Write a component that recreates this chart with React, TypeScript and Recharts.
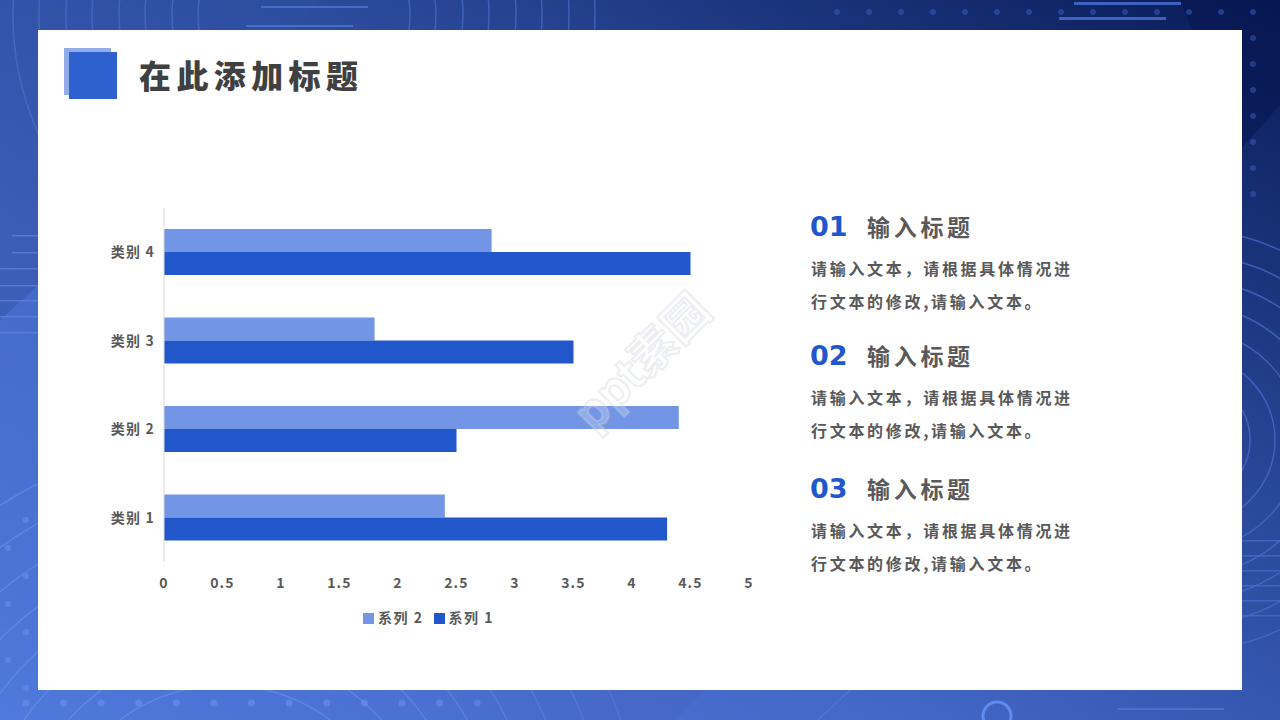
import { BarChart, Bar, XAxis, YAxis, Legend } from "recharts";

const categories = ["类别 1", "类别 2", "类别 3", "类别 4"];
const series1 = [4.3, 2.5, 3.5, 4.5];
const series2 = [2.4, 4.4, 1.8, 2.8];
const xTicks = [0, 0.5, 1, 1.5, 2, 2.5, 3, 3.5, 4, 4.5, 5];

const headings = ["输入标题", "输入标题", "输入标题"];
const numbers = ["01", "02", "03"];
const line1 = "请输入文本，请根据具体情况进";
const line2 = "行文本的修改,请输入文本。";

const chartData = categories.map((name, i) => ({
  name,
  s1: series1[i],
  s2: series2[i],
}));

const FONT = '"Noto Sans CJK SC", "Noto Sans", sans-serif';

// positions of the three text blocks on the right
const blocks = [
  { head: 226, a: 268, b: 301 },
  { head: 355, a: 397, b: 430 },
  { head: 488, a: 530, b: 563 },
];

function Background() {
  const dots: [number, number][] = [];
  for (let r = 0; r < 8; r++) {
    for (let c = 0; c < 18; c++) {
      const x = 837 + c * 32;
      const y = 12 + r * 26;
      if (x > 1242 || y < 30) dots.push([x, y]);
    }
  }
  const lowDots: [number, number][] = [];
  for (let c = 0; c < 13; c++) {
    lowDots.push([26 + c * 37.6, 703]);
  }
  const leftDots: [number, number][] = [
    [26, 520], [8, 548], [26, 576], [8, 604], [26, 632], [8, 660], [26, 688],
  ];
  return (
    <svg width={1280} height={720} style={{ position: "absolute", left: 0, top: 0 }}>
      <defs>
        <linearGradient id="bg" x1="0" y1="1" x2="1" y2="0">
          <stop offset="0" stopColor="#4f79dc" />
          <stop offset="0.35" stopColor="#4468c8" />
          <stop offset="0.7" stopColor="#24428f" />
          <stop offset="1" stopColor="#081a56" />
        </linearGradient>
        <linearGradient id="band" x1="0" y1="0" x2="1" y2="0">
          <stop offset="0.6" stopColor="#4566c4" stopOpacity={0} />
          <stop offset="1" stopColor="#4566c4" stopOpacity={0.8} />
        </linearGradient>
      </defs>
      <rect width={1280} height={720} fill="url(#bg)" />
      <polygon points="0,0 320,0 290,40 38,285 0,320" fill="#2f4f9f" opacity={0.45} />
      <polygon points="1180,0 1280,0 1280,105 1240,150" fill="#071650" opacity={0.6} />

      {/* top rings */}
      {[106, 132, 159, 185, 212, 238, 265, 291].map((r) => (
        <circle key={r} cx={304} cy={15} r={r} fill="none" stroke="#4f74d0" strokeOpacity={0.6} strokeWidth={1.5} />
      ))}
      {/* bottom rings */}
      {[175, 210, 245, 280, 315, 350, 385, 420].map((r) => (
        <circle key={r} cx={225} cy={860} r={r} fill="none" stroke="#7f9fee" strokeOpacity={0.4} strokeWidth={1.5} />
      ))}
      {/* right rings */}
      {[60, 85, 110, 135, 160, 185, 210].map((r) => (
        <circle key={r} cx={1190} cy={440} r={r} fill="none" stroke="#4a6fcf" strokeOpacity={0.7} strokeWidth={1.5} />
      ))}

      {dots.map(([x, y]) => (
        <circle key={`${x}-${y}`} cx={x} cy={y} r={3} fill="#3a5fbe" opacity={0.5} />
      ))}
      {lowDots.map(([x, y]) => (
        <circle key={x} cx={x} cy={y} r={3.5} fill="#6f90ea" opacity={0.6} />
      ))}
      {leftDots.map(([x, y]) => (
        <circle key={y} cx={x} cy={y} r={3} fill="#6f90ea" opacity={0.55} />
      ))}

      {/* short lines */}
      <rect x={1074} y={2} width={107} height={3} fill="#3f62c0" />
      <rect x={1059} y={17} width={107} height={3} fill="#3f62c0" />
      <rect x={261} y={6} width={107} height={2} fill="#4a6cc6" />
      <rect x={246} y={25} width={107} height={2} fill="#4a6cc6" />
      <rect x={1117} y={708} width={107} height={2} fill="#4a6fd0" />
      {[235, 252, 268, 285, 300, 316, 332].map((y, i) => (
        <rect key={y} x={i < 2 ? 12 : 0} y={y} width={38} height={1.5} fill="#5f83dd" opacity={0.75} />
      ))}
      {[540, 555, 570, 585, 600, 615].map((y) => (
        <rect key={y} x={1242} y={y} width={38} height={1.5} fill="#4a6fcf" opacity={0.7} />
      ))}

      <line x1={850} y1={690} x2={818} y2={720} stroke="#5f83dd" strokeOpacity={0.7} />
      <polygon points="0,690 705,690 675,720 0,720" fill="url(#band)" />
      <circle cx={997} cy={716} r={14} fill="none" stroke="#5f8af0" strokeWidth={3} />
    </svg>
  );
}

function Watermark() {
  return (
    <svg width={1280} height={720} style={{ position: "absolute", left: 0, top: 0, pointerEvents: "none" }}>
      <g transform="rotate(-45 642 362)" fontFamily={FONT} fontSize={46} fontWeight={700}>
        <text
          x={642}
          y={378}
          textAnchor="middle"
          fill="rgba(255,255,255,0.22)"
          stroke="rgba(205,210,222,0.4)"
          strokeWidth={2}
        >
          ppt素园
        </text>
      </g>
    </svg>
  );
}

function LegendLabel(value: string) {
  return <span style={{ color: "#595959", fontSize: 14, fontWeight: 700, letterSpacing: 1.5 }}>{value}</span>;
}

export default function App() {
  const tickStyle = { fontSize: 14, fill: "#595959", fontWeight: 700, fontFamily: FONT, letterSpacing: 1.2 };
  return (
    <div style={{ position: "absolute", left: 0, top: 0, width: 1280, height: 720, overflow: "hidden", fontFamily: FONT }}>
      <Background />
      <div style={{ position: "absolute", left: 38, top: 30, width: 1204, height: 660, background: "#fff" }} />

      <div style={{ position: "absolute", left: 64, top: 48, width: 47, height: 47, background: "#92ace9" }} />
      <div style={{ position: "absolute", left: 69, top: 52, width: 48, height: 47, background: "#2f60cf" }} />
      <div
        style={{
          position: "absolute",
          left: 139,
          top: 50,
          fontSize: 32,
          lineHeight: "48px",
          fontWeight: 900,
          letterSpacing: 5.4,
          color: "#404040",
          whiteSpace: "nowrap",
        }}
      >
        在此添加标题
      </div>

      <div style={{ position: "absolute", left: 64, top: 190 }}>
        <BarChart
          width={720}
          height={450}
          data={chartData}
          layout="vertical"
          barSize={23}
          barGap={0}
          margin={{ top: 18, right: 35, bottom: 10, left: 0 }}
        >
          <XAxis
            type="number"
            domain={[0, 5]}
            ticks={xTicks}
            interval={0}
            axisLine={false}
            tickLine={false}
            height={28}
            tickMargin={10}
            tick={tickStyle}
          />
          <YAxis
            type="category"
            dataKey="name"
            reversed
            width={100}
            tickLine={false}
            axisLine={{ stroke: "#d9d9d9" }}
            tickMargin={3}
            tick={tickStyle}
          />
          <Legend
            verticalAlign="bottom"
            align="center"
            height={40}
            iconType="square"
            iconSize={11}
            itemSorter={null}
            formatter={LegendLabel}
            wrapperStyle={{ left: 27, bottom: -4 }}
          />
          <Bar dataKey="s2" name="系列 2" fill="#7295e6" isAnimationActive={false} />
          <Bar dataKey="s1" name="系列 1" fill="#2257cc" isAnimationActive={false} />
        </BarChart>
      </div>

      {blocks.map((b, i) => (
        <div key={i}>
          <div
            style={{
              position: "absolute",
              left: 810,
              top: b.head - 19,
              lineHeight: "40px",
              fontSize: 27,
              fontWeight: 700,
              color: "#2257cc",
              fontFamily: '"DejaVu Sans", sans-serif',
            }}
          >
            {numbers[i]}
          </div>
          <div
            style={{
              position: "absolute",
              left: 867,
              top: b.head - 20,
              lineHeight: "40px",
              fontSize: 23,
              fontWeight: 700,
              letterSpacing: 3.7,
              color: "#595959",
              whiteSpace: "nowrap",
            }}
          >
            {headings[i]}
          </div>
          <div
            style={{
              position: "absolute",
              left: 811,
              top: b.a - 14,
              lineHeight: "28px",
              fontSize: 16,
              fontWeight: 700,
              letterSpacing: 2.7,
              color: "#595959",
              whiteSpace: "nowrap",
            }}
          >
            {line1}
          </div>
          <div
            style={{
              position: "absolute",
              left: 811,
              top: b.b - 14,
              lineHeight: "28px",
              fontSize: 16,
              fontWeight: 700,
              letterSpacing: 2.7,
              color: "#595959",
              whiteSpace: "nowrap",
            }}
          >
            {line2}
          </div>
        </div>
      ))}

      <Watermark />
    </div>
  );
}
